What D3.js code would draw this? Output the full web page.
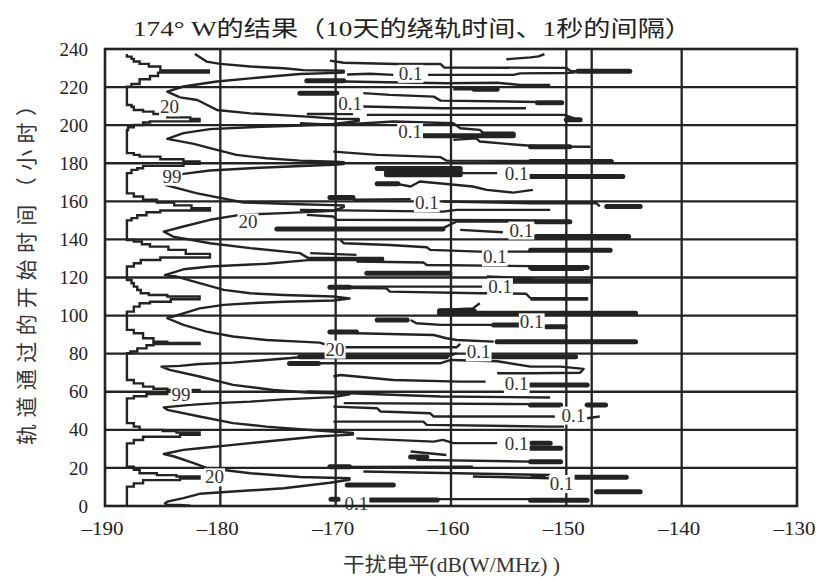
<!DOCTYPE html>
<html><head><meta charset="utf-8">
<script src="https://cdn.jsdelivr.net/npm/d3@7"></script>
<style>body{margin:0;background:#fff}</style></head>
<body><svg id="c" width="816" height="580"></svg>
<script>
const xTicks=[-190,-180,-170,-160,-150,-140,-130];
const yTicks=[0,20,40,60,80,100,120,140,160,180,200,220,240];
const refLines=[-147.8];
const titleText="174° W的结果（10天的绕轨时间、1秒的间隔）";
const xLabel="干扰电平(dB(W/MHz) )";
const yLabel="轨道通过的开始时间（小时）";

// 99% contour (staircase), [dB, hour]
const contour99=[
[-188.1,237.4],[-188.1,236.0],[-187.7,234.8],[-187.5,233.4],[-187.0,232.2],[-186.2,230.8],[-185.2,228.8],[-181.0,227.6],[-185.4,225.8],[-186.1,224.1],[-187.0,221.6],[-187.7,220.2],[-188.1,218.9],[-188.1,210.6],
[-187.7,209.7],[-187.5,208.0],[-186.7,207.1],[-185.8,205.9],[-184.6,204.1],[-182.6,203.2],[-181.8,202.0],[-186.1,201.4],[-186.7,200.1],[-187.5,198.9],[-188.0,197.5],[-188.1,195.8],[-188.1,185.3],
[-187.5,184.4],[-187.0,183.5],[-185.2,182.1],[-183.2,180.9],[-181.8,179.7],[-183.2,178.6],[-186.7,177.4],[-187.2,176.5],[-187.7,174.8],[-188.1,173.0],[-188.1,164.2],
[-187.5,162.5],[-186.7,160.8],[-185.5,159.4],[-184.0,157.9],[-182.5,156.4],[-180.9,155.2],[-185.2,154.3],[-186.4,152.7],[-187.2,151.2],[-187.7,150.0],[-188.1,148.5],[-188.1,139.7],
[-187.5,138.9],[-186.8,137.5],[-186.1,136.2],[-184.5,134.5],[-183.0,132.4],[-180.9,130.5],[-185.2,129.2],[-186.9,127.5],[-187.5,125.8],[-188.1,124.0],[-188.1,118.7],
[-187.7,117.0],[-187.5,115.2],[-187.2,113.4],[-186.9,111.7],[-186.2,110.8],[-184.6,110.0],[-181.8,108.6],[-184.3,107.3],[-186.1,106.5],[-187.0,104.7],[-187.5,102.1],[-188.1,99.5],[-188.1,92.5],
[-187.5,90.7],[-186.7,88.1],[-185.8,86.3],[-184.6,85.6],[-181.8,85.1],[-185.8,84.4],[-186.4,82.8],[-187.2,81.1],[-187.8,80.2],[-188.1,78.5],[-188.1,66.2],
[-187.5,64.4],[-186.7,62.7],[-185.8,61.6],[-184.6,61.0],[-181.8,60.0],[-184.6,58.8],[-186.4,57.6],[-187.5,56.5],[-188.1,54.0],[-188.1,43.5],
[-187.5,41.7],[-187.0,40.0],[-185.0,39.3],[-183.8,38.6],[-181.8,37.4],[-183.5,36.4],[-186.7,34.7],[-187.5,32.9],[-188.1,31.0],[-188.1,20.7],
[-187.5,19.0],[-187.0,17.2],[-185.5,16.2],[-183.8,15.5],[-181.8,14.4],[-183.5,13.6],[-186.7,11.9],[-187.5,10.2],[-188.1,7.6],[-188.1,0.3]
];

// 20% contour, [dB, hour]
const contour20=[
[-182.2,237.4],[-181.2,233.4],[-180.0,232.2],[-177.4,230.8],[-174.5,229.9],[-172.8,228.9],[-169.3,228.6],[-169.3,227.6],[-173.1,226.9],[-177.4,224.6],[-180.3,222.9],[-183.2,220.3],[-184.6,217.6],
[-183.5,214.6],[-182.0,213.2],[-180.3,208.0],[-177.4,206.2],[-172.5,204.5],[-169.9,203.4],[-168.0,203.2],[-168.0,202.2],[-170.2,200.6],[-173.0,199.8],[-177.4,198.9],[-180.9,197.9],[-183.2,195.8],[-184.6,192.8],
[-182.3,190.2],[-180.9,187.9],[-178.6,184.4],[-176.0,182.6],[-173.1,181.4],[-170.0,180.8],[-169.3,180.6],[-169.3,179.6],[-170.2,179.2],[-173.5,178.4],[-177.4,177.4],[-180.9,176.2],[-183.2,174.4],[-184.6,172.3],
[-184.8,168.6],[-182.1,164.3],[-178.0,159.4],[-173.1,158.5],[-170.2,158.0],[-169.3,157.8],[-169.3,156.9],[-170.2,155.0],[-174.5,153.8],[-178.3,152.9],[-180.9,150.3],[-183.2,146.8],[-184.9,144.1],
[-184.1,141.5],[-180.9,138.0],[-177.4,135.4],[-173.1,132.8],[-172.4,130.3],[-165.9,130.3],[-165.9,129.1],[-172.4,129.1],[-176.0,127.2],[-180.9,125.8],[-183.2,124.3],[-184.8,121.3],
[-183.8,120.5],[-181.8,117.0],[-179.7,113.5],[-177.4,111.7],[-174.5,110.8],[-170.2,110.0],[-168.8,109.0],[-170.2,107.9],[-174.5,107.3],[-177.4,106.5],[-179.7,105.6],[-181.8,103.8],[-183.2,101.2],[-184.6,98.6],
[-183.2,95.1],[-181.2,91.6],[-178.9,89.0],[-176.0,87.2],[-173.1,86.3],[-171.4,85.8],[-170.1,83.5],[-170.2,79.5],[-173.1,78.1],[-176.0,76.7],[-178.9,75.3],[-181.8,74.6],[-183.5,73.6],[-185.1,73.2],
[-184.4,71.5],[-181.8,68.0],[-178.9,63.6],[-175.4,60.9],[-172.5,59.6],[-170.2,59.2],[-168.8,58.6],[-170.2,57.2],[-174.5,56.0],[-177.4,54.8],[-180.3,54.0],[-182.6,53.1],[-184.9,51.8],
[-184.6,50.5],[-181.8,47.0],[-178.9,43.5],[-176.0,41.7],[-173.1,40.3],[-170.0,39.0],[-168.5,38.4],[-168.5,37.5],[-171.6,36.5],[-176.0,33.9],[-178.9,32.1],[-181.8,30.3],[-183.2,29.5],[-184.9,27.3],
[-184.0,26.0],[-182.3,22.5],[-181.2,20.0],[-179.5,18.8],[-177.4,17.2],[-173.1,15.2],[-170.5,14.8],[-168.8,14.6],[-168.8,13.8],[-170.5,12.2],[-174.5,9.3],[-178.9,7.6],[-181.8,6.4],[-183.2,4.1],[-184.6,2.3],[-184.8,1.4],
[-184.6,0.6],[-183.5,0.5],[-182.6,0.1]
];

// 0.1% contour: thin pieces, [dB, hour]
const contour01Lines=[
[[-155.2,234.6],[-153.1,235.6],[-152.4,236.1],[-151.9,237.3]],
[[-170.5,233.9],[-169.3,232.8],[-164.7,232.1],[-160.9,232.1],[-160.6,230.3],[-150.0,230.1],[-149.6,228.3],[-145.0,228.3]],
[[-169.0,226.6],[-167.0,227.0],[-165.0,226.4]],
[[-162.0,226.4],[-154.6,226.4],[-154.0,227.2],[-150.0,227.4],[-149.2,227.7]],
[[-169.3,222.9],[-160.4,222.0],[-156.0,222.3],[-154.0,221.1],[-151.4,221.1]],
[[-159.8,218.9],[-156.3,218.9]],
[[-167.6,216.8],[-165.3,215.9],[-161.5,215.0],[-160.9,212.9],[-152.5,212.2]],
[[-167.6,209.8],[-160.7,208.9],[-153.5,208.9]],
[[-172.5,205.9],[-168.5,205.9]],
[[-167.3,205.4],[-150.2,205.4],[-149.3,203.5]],
[[-173.1,201.0],[-169.9,200.1],[-165.0,201.9],[-159.8,201.0],[-159.2,198.4],[-157.5,197.5],[-157.2,195.8],[-155.5,195.4]],
[[-159.8,192.3],[-157.8,193.1],[-157.5,191.4],[-154.0,189.6],[-152.0,188.8],[-147.9,188.7]],
[[-170.2,186.1],[-166.4,184.4],[-160.9,183.2],[-160.4,181.4],[-152.0,181.2]],
[[-159.2,174.8],[-156.0,174.8]],
[[-166.4,169.2],[-164.7,169.2],[-163.5,167.8],[-162.7,170.4],[-158.1,167.8],[-156.9,166.0],[-154.6,164.6],[-152.9,166.0]],
[[-168.5,160.8],[-163.5,161.1]],
[[-160.7,159.9],[-153.1,159.0],[-147.4,159.0],[-147.1,157.3]],
[[-173.1,155.5],[-160.7,154.6],[-159.5,155.5],[-151.4,155.5]],
[[-172.5,152.9],[-170.2,152.0],[-169.9,150.3],[-152.6,150.0]],
[[-160.7,145.9],[-159.5,149.4],[-152.0,149.4]],
[[-159.2,145.0],[-155.5,143.8]],
[[-169.6,139.8],[-169.3,138.0],[-165.3,137.1],[-162.1,135.9],[-161.8,134.5],[-157.5,133.6],[-153.1,133.6]],
[[-172.2,132.8],[-168.2,131.9]],
[[-168.2,128.4],[-162.4,127.9],[-162.1,126.6],[-153.1,126.0],[-151.0,125.2]],
[[-153.1,124.0],[-148.5,124.0]],
[[-156.9,120.5],[-152.9,119.6]],
[[-170.2,115.2],[-157.3,115.2]],
[[-170.2,114.6],[-165.6,114.3],[-165.3,112.6],[-157.5,111.7],[-153.5,111.5],[-153.1,109.1],[-148.2,109.1],[-148.2,108.4],[-153.1,108.4]],
[[-160.9,103.0],[-158.1,103.8],[-157.5,106.5]],
[[-163.5,97.7],[-163.0,96.0],[-160.9,95.1],[-156.3,95.1]],
[[-168.2,90.7],[-161.5,89.8],[-160.4,88.1],[-159.5,87.2],[-156.3,86.3]],
[[-169.3,83.4],[-159.5,83.4],[-159.2,85.1]],
[[-160.4,78.5],[-159.5,80.2]],
[[-171.5,75.0],[-160.9,75.0],[-160.0,76.7],[-156.0,76.0],[-153.1,73.2],[-150.5,73.2],[-148.5,72.0],[-148.8,70.0],[-153.1,69.7],[-156.0,69.7]],
[[-170.2,68.0],[-169.6,68.8],[-165.0,66.2],[-159.2,65.3],[-157.0,65.3]],
[[-172.5,60.1],[-168.8,59.2],[-160.9,57.5],[-151.4,57.0]],
[[-169.3,54.0],[-153.1,53.5]],
[[-170.2,52.2],[-166.4,51.3],[-166.1,49.6],[-161.8,48.7],[-161.5,47.0],[-151.0,47.0]],
[[-148.2,46.1],[-147.1,47.0]],
[[-170.2,44.3],[-162.4,44.3],[-162.1,42.6],[-151.4,41.7],[-150.2,41.7]],
[[-168.2,35.5],[-161.5,33.8],[-160.7,34.7],[-159.8,33.0],[-156.0,33.0]],
[[-163.5,28.6],[-160.4,26.8]],
[[-163.0,24.2],[-153.1,23.3]],
[[-170.5,20.5],[-158.1,20.7]],
[[-167.6,18.1],[-151.4,16.3]],
[[-158.1,15.5],[-151.4,14.6]],
[[-153.1,15.5],[-151.8,15.5]],
[[-161.2,3.6],[-153.1,3.6]]
];

// 0.1% contour: thick streaks [hour, dB from, dB to]
const contour01Bars=[
[228.3,-149.0,-144.5],[223.3,-172.5,-169.3],[218.9,-158.0,-156.0],[216.8,-173.1,-169.9],
[211.8,-152.5,-150.4],[202.9,-150.0,-148.8],[195.3,-157.2,-154.6],[194.4,-162.4,-154.6],
[188.7,-153.1,-149.7],[180.9,-153.1,-146.1],[177.3,-166.4,-159.2],[175.6,-165.6,-159.2],
[174.0,-165.6,-159.2],[173.0,-153.1,-145.1],[169.2,-166.4,-164.6],[162.0,-170.5,-168.5],
[157.3,-146.5,-143.6],[149.3,-152.6,-149.7],[145.5,-175.1,-160.7],[141.5,-152.6,-144.6],
[134.3,-153.1,-146.2],[125.2,-153.1,-148.2],[122.2,-167.3,-160.1],[118.0,-154.6,-147.9],
[114.9,-170.5,-168.8],[102.5,-161.0,-158.0],[101.2,-161.0,-144.0],[97.7,-166.4,-163.8],
[95.1,-156.3,-154.0],[94.2,-151.7,-150.1],[91.4,-170.5,-168.2],[86.3,-156.0,-144.0],
[78.4,-173.1,-160.4],[78.4,-156.6,-149.2],[74.9,-174.0,-171.5],[63.6,-153.1,-148.2],
[53.1,-153.1,-150.5],[53.1,-148.2,-146.6],[32.9,-153.0,-151.4],[30.3,-153.1,-150.5],
[25.7,-163.5,-162.1],[23.3,-153.1,-150.5],[20.6,-170.5,-168.8],[15.1,-149.2,-144.8],
[11.0,-169.0,-165.0],[7.5,-147.4,-143.6],[3.2,-167.0,-161.2],[3.0,-153.1,-148.2],[3.6,-170.4,-169.8]
];

// contour labels [text, dB, hour]
const contourLabels=[
["0.1",-163.5,227.3],["0.1",-168.75,211.5],["0.1",-163.55,196.6],["0.1",-154.3,174.7],
["0.1",-162.1,159.3],["0.1",-153.9,145.0],["0.1",-156.2,130.9],["0.1",-155.75,115.2],
["0.1",-153.0,96.8],["0.1",-157.6,81.0],["0.1",-154.3,64.4],["0.1",-149.4,47.8],
["0.1",-154.3,32.9],["0.1",-150.4,11.9],["0.1",-168.2,1.4],
["20",-184.4,209.7],["20",-177.6,149.3],["20",-170.05,82.5],["20",-180.5,15.4],
["99",-184.2,173.3],["99",-183.4,58.8]
];

const svg=d3.select("#c");
const ink="#232323";
const serif="'Liberation Serif','Noto Sans CJK SC',serif";
const x=d3.scaleLinear().domain([-190,-130]).range([105,797]);
const y=d3.scaleLinear().domain([0,240]).range([506,49]);

svg.append("defs").append("clipPath").attr("id","pc").append("rect")
  .attr("x",105).attr("y",49).attr("width",692).attr("height",457);

// grid
const grid=svg.append("g").attr("stroke",ink).attr("stroke-width",2.3);
grid.selectAll(".v").data(xTicks.slice(1,-1).concat(refLines)).join("line")
  .attr("x1",d=>x(d)).attr("x2",d=>x(d)).attr("y1",y(0)).attr("y2",y(240));
grid.selectAll(".h").data(yTicks.slice(1,-1)).join("line")
  .attr("y1",d=>y(d)).attr("y2",d=>y(d)).attr("x1",x(-190)).attr("x2",x(-130));

const plot=svg.append("g").attr("clip-path","url(#pc)");
const lineLin=d3.line().x(d=>x(d[0])).y(d=>y(d[1]));
const lineStep=d3.line().x(d=>x(d[0])).y(d=>y(d[1])).curve(d3.curveStepAfter);

plot.append("path").attr("d",lineStep(contour99)).attr("fill","none").attr("stroke",ink).attr("stroke-width",2.4);
plot.append("path").attr("d",lineLin(contour20)).attr("fill","none").attr("stroke",ink).attr("stroke-width",2.4).attr("stroke-linejoin","round");
plot.selectAll(".c01").data(contour01Lines).join("path")
  .attr("d",d=>lineLin(d)).attr("fill","none").attr("stroke",ink).attr("stroke-width",2.4).attr("stroke-linejoin","round");
plot.selectAll(".b01").data(contour01Bars).join("line")
  .attr("x1",d=>x(d[1])).attr("x2",d=>x(d[2])).attr("y1",d=>y(d[0])).attr("y2",d=>y(d[0]))
  .attr("stroke",ink).attr("stroke-width",5).attr("stroke-linecap","round");

// contour labels
const lg=svg.append("g");
contourLabels.forEach(([t,dB,h])=>{
  const g=lg.append("g");
  const r=g.append("rect").attr("fill","#fff");
  const tx=g.append("text").attr("x",x(dB)).attr("y",y(h)).attr("dy","0.35em")
    .attr("text-anchor","middle").attr("font-family",serif).attr("font-size",19).attr("fill","#333").text(t);
  const b=tx.node().getBBox();
  r.attr("x",b.x-1).attr("y",b.y+2).attr("width",b.width+2).attr("height",b.height-3);
});

// frame
svg.append("rect").attr("x",x(-190)).attr("y",y(240)).attr("width",x(-130)-x(-190)).attr("height",y(0)-y(240))
  .attr("fill","none").attr("stroke",ink).attr("stroke-width",2.6);

// axes
const fmt=d=>d<0?"\u2013"+Math.abs(d):String(d);
const ax=svg.append("g").attr("transform",`translate(0,${y(0)})`)
  .call(d3.axisBottom(x).tickValues(xTicks).tickSize(0).tickPadding(16).tickFormat(fmt));
const ay=svg.append("g").attr("transform",`translate(${x(-190)},0)`)
  .call(d3.axisLeft(y).tickValues(yTicks).tickSize(0).tickPadding(17));
[ax,ay].forEach(a=>{a.select(".domain").remove();
  a.selectAll("text").attr("font-family",serif).attr("font-size",19).attr("fill","#222");});
ax.selectAll("text").attr("dx",-3).attr("textLength",42).attr("lengthAdjust","spacingAndGlyphs");

svg.append("text").attr("x",412.5).attr("y",36).attr("text-anchor","middle")
  .attr("font-family",serif).attr("font-size",22).attr("fill","#222")
  .attr("textLength",559).attr("lengthAdjust","spacingAndGlyphs").text(titleText);
svg.append("text").attr("x",451.5).attr("y",572).attr("text-anchor","middle")
  .attr("font-family",serif).attr("font-size",20).attr("fill","#333")
  .attr("textLength",217).attr("lengthAdjust","spacingAndGlyphs").text(xLabel);
svg.append("text").attr("transform","translate(34,270) rotate(-90)").attr("text-anchor","middle")
  .attr("font-family",serif).attr("font-size",21).attr("fill","#333")
  .attr("textLength",350).attr("lengthAdjust","spacing").text(yLabel);
</script></body></html>
